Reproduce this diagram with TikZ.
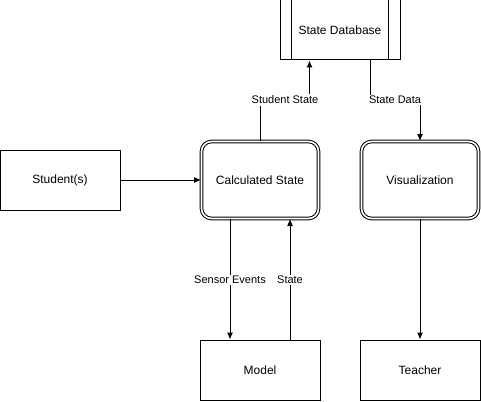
\documentclass[tikz,border=0pt]{standalone}
\usepackage{fontspec}
\setmainfont{Liberation Sans}
\usetikzlibrary{arrows.meta,calc}
\begin{document}
\begin{tikzpicture}[x=1pt,y=-1pt,line width=1pt,
  box/.style={draw,minimum width=120pt,minimum height=60pt,font=\fontsize{12}{14}\selectfont,inner sep=0pt},
  dbox/.style={draw,double,double distance=1.6pt,rounded corners=10pt,minimum width=117pt,minimum height=77pt,font=\fontsize{12}{14}\selectfont,inner sep=0pt},
  lbl/.style={fill=white,font=\fontsize{11}{13}\selectfont,inner sep=1.5pt},
  arr/.style={-{Latex[length=7pt,width=6pt]}}]
\useasboundingbox (0,0) rectangle (481,401);
\node[box] (db) at (340,30) {State Database};
\draw ($(db.north west)+(12,0)$) -- ($(db.south west)+(12,0)$);
\draw ($(db.north east)+(-12,0)$) -- ($(db.south east)+(-12,0)$);
\node[box] (stu) at (60,180) {Student(s)};
\node[dbox] (calc) at (260,180) {Calculated State};
\node[dbox] (vis) at (420,180) {Visualization};
\node[box] (model) at (260,370) {Model};
\node[box] (teach) at (420,370) {Teacher};
\draw[arr] (stu.east) -- (calc.west);
\draw[arr] (calc.north) -- ++(0,-40) -| ($(db.south west)+(30,0)$);
\node[lbl] (l1) at (285,100) {Student State};
\draw[arr] ($(db.south east)+(-30,0)$) -- ++(0,40) -| (vis.north);
\node[lbl] (l2) at (395,100) {State Data};
\draw[arr] ($(calc.south)+(-30,0)$) -- ($(model.north)+(-30,0)$);
\node[lbl] (l3) at (230,280) {Sensor Events};
\draw[arr] ($(model.north)+(30,0)$) -- ($(calc.south)+(30,0)$);
\node[lbl] (l4) at (290,280) {State};
\draw[arr] (vis.south) -- (teach.north);
\end{tikzpicture}
\end{document}
